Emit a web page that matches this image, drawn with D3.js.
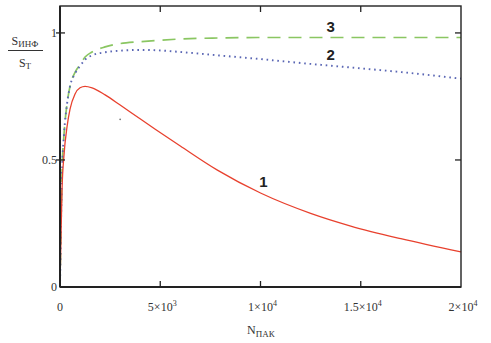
<!DOCTYPE html>
<html><head><meta charset="utf-8">
<script src="https://cdn.jsdelivr.net/npm/d3@7"></script>
<style>body{margin:0;background:#fff}</style>
</head><body>
<svg id="c" width="491" height="343"></svg>
<script>
const N      = [0, 50, 100, 200, 350, 500, 750, 1000, 1250, 1600, 2250, 3000, 3900, 4750, 6000, 7850, 10000, 12500, 14500, 17000, 20000];
const curve1 = [0, 0.20, 0.38, 0.52, 0.63, 0.70, 0.76, 0.784, 0.79, 0.784, 0.756, 0.716, 0.667, 0.621, 0.555, 0.46, 0.37, 0.29, 0.24, 0.19, 0.138];
const curve2 = [0, 0.25, 0.45, 0.60, 0.72, 0.79, 0.84, 0.87, 0.895, 0.912, 0.924, 0.93, 0.933, 0.932, 0.925, 0.912, 0.897, 0.878, 0.864, 0.846, 0.82];
const curve3 = [0, 0.25, 0.45, 0.60, 0.72, 0.79, 0.845, 0.875, 0.905, 0.925, 0.945, 0.958, 0.965, 0.97, 0.976, 0.98, 0.982, 0.982, 0.982, 0.982, 0.982];
const strayN = [3000], strayV = [0.66];
const xTicks = [0, 5000, 10000, 15000, 20000];
const xTickMant = ["0", "5", "1", "1.5", "2"];
const xTickExp  = ["", "3", "4", "4", "4"];
const yTicks = [0, 0.5, 1];
const yTickLabels = ["0", "0.5", "1"];
const curveLabels = [{t:"3", n:13500, v:1.002}, {t:"2", n:13500, v:0.892}, {t:"1", n:10150, v:0.392}];

const svg = d3.select("#c");
const x = d3.scaleLinear().domain([0, 20000]).range([60, 461]);
const y = d3.scaleLinear().domain([0, 1.106]).range([287, 6]);

const line = d3.line().x(d => x(d[0])).y(d => y(d[1])).curve(d3.curveMonotoneX);
const mk = arr => N.map((n, i) => [n, arr[i]]);

svg.append("path").attr("d", line(mk(curve3))).attr("fill","none")
  .attr("stroke","#8ac662").attr("stroke-width",1.7).attr("stroke-dasharray","13,8");
svg.append("path").attr("d", line(mk(curve2))).attr("fill","none")
  .attr("stroke","#5a66b4").attr("stroke-width",1.9).attr("stroke-dasharray","1.6,3.8");
svg.append("path").attr("d", line(mk(curve1))).attr("fill","none")
  .attr("stroke","#e8412e").attr("stroke-width",1.3);
svg.selectAll(".stray").data(strayN).enter().append("circle")
  .attr("cx", d => x(d)).attr("cy", (d,i) => y(strayV[i])).attr("r", 0.9).attr("fill","#777");

// frame
svg.append("rect").attr("x", x(0)).attr("y", y(1.106)).attr("width", x(20000)-x(0)).attr("height", y(0)-y(1.106))
  .attr("fill","none").attr("stroke","#222").attr("stroke-width",1.4);
svg.append("line").attr("x1",x(0)).attr("x2",x(0)).attr("y1",y(1.106)).attr("y2",y(0)).attr("stroke","#222").attr("stroke-width",2);
svg.append("line").attr("x1",x(0)).attr("x2",x(20000)).attr("y1",y(0)).attr("y2",y(0)).attr("stroke","#222").attr("stroke-width",2);

// ticks
const xt = xTicks.filter(t => t > 0 && t < 20000);
xt.forEach(t => {
  svg.append("line").attr("x1",x(t)).attr("x2",x(t)).attr("y1",y(0)).attr("y2",y(0)-6).attr("stroke","#222").attr("stroke-width",1.3);
  svg.append("line").attr("x1",x(t)).attr("x2",x(t)).attr("y1",y(1.106)).attr("y2",y(1.106)+6).attr("stroke","#222").attr("stroke-width",1.3);
});
yTicks.filter(t => t > 0).forEach(t => {
  svg.append("line").attr("x1",x(0)-4).attr("x2",x(0)+5).attr("y1",y(t)).attr("y2",y(t)).attr("stroke","#222").attr("stroke-width",1.3);
  svg.append("line").attr("x1",x(20000)-6).attr("x2",x(20000)).attr("y1",y(t)).attr("y2",y(t)).attr("stroke","#222").attr("stroke-width",1.3);
});

const tf = "'Liberation Serif','Times New Roman',serif";
xTicks.forEach((t, i) => {
  const tx = svg.append("text").attr("x", x(t) + (xTickExp[i] ? 2 : 0)).attr("y", 311)
    .attr("text-anchor","middle").attr("font-family", tf).attr("font-size", 12).attr("fill","#333");
  if (xTickExp[i]) {
    tx.append("tspan").text(xTickMant[i] + "\u00d710");
    tx.append("tspan").text(xTickExp[i]).attr("font-size", 8).attr("dy", -5);
  } else tx.text(xTickMant[i]);
});
yTicks.forEach((t, i) => {
  svg.append("text").attr("x", 57).attr("y", y(t) + 4).attr("text-anchor","end")
    .attr("font-family", tf).attr("font-size", 12).attr("fill","#333").text(yTickLabels[i]);
});

// axis titles
const xl = svg.append("text").attr("x", 247).attr("y", 334).attr("font-family", tf).attr("font-size", 12).attr("fill","#333");
xl.append("tspan").text("N");
xl.append("tspan").text("ПАК").attr("font-size", 9).attr("dy", 3);

const yl1 = svg.append("text").attr("x", 25).attr("y", 45).attr("text-anchor","middle").attr("font-family", tf).attr("font-size", 12).attr("fill","#333");
yl1.append("tspan").text("S");
yl1.append("tspan").text("ИНФ").attr("font-size", 9).attr("dy", 2);
svg.append("line").attr("x1", 8).attr("x2", 43).attr("y1", 50.5).attr("y2", 50.5).attr("stroke","#333").attr("stroke-width",1);
const yl2 = svg.append("text").attr("x", 25).attr("y", 67).attr("text-anchor","middle").attr("font-family", tf).attr("font-size", 12).attr("fill","#333");
yl2.append("tspan").text("S");
yl2.append("tspan").text("T").attr("font-size", 9).attr("dy", 2);

// curve labels
curveLabels.forEach(c => {
  svg.append("text").attr("x", x(c.n)).attr("y", y(c.v)).attr("text-anchor","middle")
    .attr("font-family","'Liberation Sans',Arial,sans-serif").attr("font-weight","bold").attr("font-size", 15).attr("fill","#222").text(c.t);
});
</script>
</body></html>
